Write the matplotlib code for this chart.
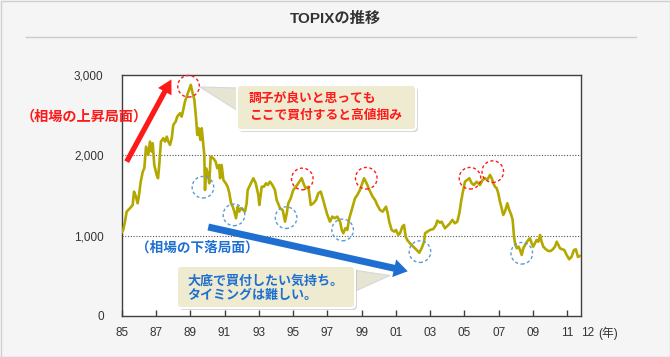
import matplotlib
matplotlib.use("Agg")
import matplotlib.pyplot as plt
import matplotlib.patches as mpatches
import matplotlib.transforms as mtransforms

plt.rcParams["font.family"] = ["Liberation Sans", "Noto Sans CJK JP", "DejaVu Sans"]

W, H = 670, 357

# ── data ──────────────────────────────────────────────────────────────────────
years = [
    1985.00, 1985.09, 1985.19, 1985.29, 1985.48, 1985.64, 1985.72, 1985.83, 1985.93,
    1986.01, 1986.11, 1986.23, 1986.32, 1986.42, 1986.55, 1986.65, 1986.75, 1986.81, 1986.90,
    1987.04, 1987.12, 1987.19, 1987.29, 1987.43, 1987.53, 1987.63, 1987.72, 1987.82, 1987.92,
    1988.01, 1988.15, 1988.24, 1988.40, 1988.50, 1988.59, 1988.69, 1988.79, 1988.89,
    1989.03, 1989.14, 1989.24, 1989.33, 1989.41, 1989.49, 1989.59, 1989.67, 1989.76, 1989.82,
    1989.86, 1989.92, 1990.02, 1990.11, 1990.19, 1990.34, 1990.48, 1990.58, 1990.68, 1990.74,
    1990.83, 1990.93, 1991.07, 1991.18, 1991.28, 1991.38, 1991.48, 1991.57, 1991.67, 1991.77,
    1991.86, 1991.96, 1992.09, 1992.19, 1992.29, 1992.35, 1992.49, 1992.58, 1992.68, 1992.82,
    1992.97, 1993.03, 1993.17, 1993.30, 1993.42, 1993.52, 1993.65, 1993.79, 1993.94,
    1994.04, 1994.24, 1994.39, 1994.53, 1994.63, 1994.72, 1994.86, 1995.01, 1995.17, 1995.30,
    1995.50, 1995.64, 1995.74, 1995.89, 1996.03, 1996.18, 1996.34, 1996.47, 1996.61, 1996.73,
    1996.86, 1997.00, 1997.15, 1997.29, 1997.44, 1997.58, 1997.74, 1997.84, 1997.93,
    1998.05, 1998.16, 1998.28, 1998.42, 1998.61, 1998.75, 1998.90, 1999.04, 1999.14,
    1999.29, 1999.45, 1999.64, 1999.78, 1999.91, 2000.07, 2000.23, 2000.42, 2000.52, 2000.61,
    2000.75, 2000.90, 2001.00, 2001.14, 2001.24, 2001.37, 2001.47, 2001.57, 2001.66, 2001.82,
    2002.01, 2002.21, 2002.36, 2002.50, 2002.64, 2002.70, 2002.83, 2002.99, 2003.18, 2003.34,
    2003.41, 2003.57, 2003.67, 2003.76, 2003.86, 2004.02, 2004.15, 2004.29, 2004.44, 2004.58,
    2004.70, 2004.80, 2004.89, 2005.03, 2005.16, 2005.28, 2005.42, 2005.55, 2005.71, 2005.90,
    2006.06, 2006.20, 2006.33, 2006.49, 2006.59, 2006.68, 2006.78, 2006.88, 2006.97,
    2007.07, 2007.17, 2007.26, 2007.36, 2007.50, 2007.61, 2007.73, 2007.81, 2007.89, 2007.95,
    2008.05, 2008.16, 2008.24, 2008.34, 2008.43, 2008.59, 2008.72, 2008.82, 2008.92,
    2009.01, 2009.11, 2009.21, 2009.31, 2009.41, 2009.50, 2009.60, 2009.75, 2009.89,
    2010.03, 2010.15, 2010.28, 2010.38, 2010.48, 2010.57, 2010.71, 2010.82, 2010.96,
    2011.11, 2011.25, 2011.39, 2011.50, 2011.62, 2011.74,
]
topix = [
    1042, 1071, 1174, 1299, 1341, 1382, 1548, 1486, 1403,
    1507, 1672, 1797, 1839, 2108, 2005, 2171, 2046, 2150, 1880,
    1756, 1715, 1880, 2171, 2213, 2171, 2233, 2171, 2129, 2213,
    2379, 2420, 2482, 2524, 2482, 2565, 2669, 2731, 2793,
    2877, 2773, 2690, 2482, 2254, 2337, 2192, 2337, 2129, 2005,
    1569, 1839, 1776, 1652, 1984, 1964, 1922, 1839, 1880, 1715,
    1880, 1694, 1652, 1610, 1528, 1403, 1361, 1299, 1217, 1361,
    1299, 1341, 1320, 1299, 1403, 1569, 1631, 1672, 1715, 1652,
    1507, 1382, 1610, 1610, 1652, 1631, 1672, 1631, 1569,
    1445, 1341, 1320, 1174, 1279, 1403, 1465, 1569, 1610, 1652,
    1715, 1631, 1590, 1610, 1382, 1403, 1445, 1528, 1548, 1465,
    1361, 1258, 1174, 1237, 1217, 1237, 1174, 1071, 1030,
    1092, 1071, 1217, 1320, 1465, 1507, 1569, 1652, 1715,
    1652, 1569, 1486, 1445, 1382, 1320, 1299, 1361, 1279, 1174,
    1071, 1050, 1071, 1009, 1030, 1112, 1133, 988, 946, 905,
    863, 822, 788, 843, 925, 1030, 1050, 1071, 1083, 1133,
    1187, 1162, 1174, 1133, 1092, 1125, 1154, 1196, 1154, 1174,
    1279, 1423, 1528, 1672, 1694, 1715, 1652, 1631, 1672, 1631,
    1694, 1715, 1694, 1756, 1715, 1652, 1610, 1590, 1528,
    1423, 1341, 1258, 1299, 1403, 1320, 1258, 1196, 988, 905,
    843, 863, 822, 760, 843, 905, 946, 967, 905,
    863, 905, 946, 925, 1009, 925, 863, 830, 809,
    809, 830, 863, 925, 884, 843, 830, 822, 760,
    706, 739, 822, 830, 735, 747,
]

tick_years = [1985, 1987, 1989, 1991, 1993, 1995, 1997, 1999, 2001, 2003, 2005, 2007, 2009, 2011]
tick_labels = ["85", "87", "89", "91", "93", "95", "97", "99", "01", "03", "05", "07", "09", "11"]
value_ticks = [0, 1000, 2000, 3000]
value_tick_labels = ["0", "1,000", "2,000", "3,000"]
guide_levels = [1000, 2000]

title = "TOPIXの推移"
rise_label = "（相場の上昇局面）"
fall_label = "（相場の下落局面）"
top_note = ["調子が良いと思っても", "ここで買付すると高値掴み"]
bottom_note = ["大底で買付したい気持ち。", "タイミングは難しい。"]

RED = "#ff1a1a"
BLUE = "#1f6fd1"
LINE = "#b3a800"
NOTE_BG = "#eeebd0"


def main():
    fig = plt.figure(figsize=(W / 100, H / 100), dpi=100, facecolor="#f5f5f5")
    # pixel coords measured from the top-left corner of the picture
    pix = mtransforms.Affine2D().scale(1 / W, -1 / H).translate(0, 1) + fig.transFigure

    fig.add_artist(mpatches.Rectangle((0.5, 0.5), W - 1, H - 1, transform=pix,
                                      fill=False, ec="#cfcfcf", lw=1))
    fig.text(335, 19, title, transform=pix, ha="center", va="center",
             fontsize=11, fontweight="bold", color="#333333")
    fig.add_artist(plt.Line2D([26, 636], [37.3, 37.3], transform=pix, color="#cccccc", lw=1))

    ax = fig.add_axes([121.7 / W, (H - 316) / H, (580.7 - 121.7) / W, (316 - 75) / H])
    ax.set_facecolor("white")
    ax.set_xlim(1985, 2011.78)
    ax.set_ylim(0, 3000)
    for spine in ax.spines.values():
        spine.set_color("#404040")
        spine.set_linewidth(1)

    ax.set_xticks(tick_years)
    ax.set_xticklabels(tick_labels)
    ax.set_yticks(value_ticks)
    ax.set_yticklabels(value_tick_labels)
    ax.tick_params(axis="x", direction="in", length=4, width=1, color="#404040",
                   pad=8, labelsize=8.5, labelcolor="#333333")
    ax.tick_params(axis="y", length=0, pad=13, labelsize=8.5, labelcolor="#333333")

    for level in guide_levels:
        ax.axhline(level, color="#555555", lw=0.8, ls=(0, (1, 1.5)), zorder=1)

    ax.plot(years, topix, color=LINE, lw=1.9, zorder=3)

    fig.text(588, 333, "12", transform=pix, ha="center", va="center",
             fontsize=8.5, color="#333333")
    fig.text(598, 333, "(年)", transform=pix, ha="left", va="center",
             fontsize=8.5, color="#333333")

    # dashed rings around peaks and bottoms
    r = 0.108
    rings = [
        (1988.9, 2860, RED), (1995.54, 1706, RED), (1999.27, 1715, RED),
        (2005.32, 1715, RED), (2006.65, 1797, RED),
        (1989.74, 1603, "#5b9bd5"), (1991.55, 1258, "#5b9bd5"), (1994.59, 1224, "#5b9bd5"),
        (1997.89, 1071, "#5b9bd5"), (2002.4, 801, "#5b9bd5"), (2008.34, 781, "#5b9bd5"),
    ]
    for x, y, c in rings:
        trans = fig.dpi_scale_trans + mtransforms.ScaledTranslation(x, y, ax.transData)
        ax.add_patch(mpatches.Circle((0, 0), r, transform=trans, fill=False, ec=c,
                                     lw=1, ls=(0, (2.2, 1.8)), zorder=4, clip_on=False))

    # trend arrows
    ax.add_patch(mpatches.FancyArrowPatch(
        (1985.29, 1921), (1987.9, 2945), arrowstyle="simple,head_width=11,head_length=10,tail_width=3.8",
        mutation_scale=1, color=RED, lw=0, zorder=5, clip_on=False, shrinkA=0, shrinkB=0))
    ax.add_patch(mpatches.FancyArrowPatch(
        (1990.05, 1108), (2001.69, 557), arrowstyle="simple,head_width=13,head_length=10,tail_width=5",
        mutation_scale=1, color=BLUE, lw=0, zorder=5, clip_on=False, shrinkA=0, shrinkB=0))

    fig.text(84, 117, rise_label, transform=pix, ha="center", va="center",
             fontsize=10.2, fontweight="bold", color=RED)
    fig.text(197.5, 247.5, fall_label, transform=pix, ha="center", va="center",
             fontsize=9.8, fontweight="bold", color=BLUE)

    # callouts
    def callout(x0, y0, x1, y1, pointer):
        fig.add_artist(mpatches.Polygon(pointer, closed=True, transform=pix, fc="#e6e4d2",
                                        ec="#d8d8d8", lw=0.8, zorder=6))
        fig.add_artist(mpatches.FancyBboxPatch(
            (x0 + 2, y0 + 2), x1 - x0, y1 - y0, boxstyle="round,pad=0,rounding_size=4",
            transform=pix, fc="#b0b0b0", ec="none", alpha=0.5, zorder=6))
        fig.add_artist(mpatches.FancyBboxPatch(
            (x0, y0), x1 - x0, y1 - y0, boxstyle="round,pad=0,rounding_size=4",
            transform=pix, fc=NOTE_BG, ec="white", lw=1.5, zorder=7))

    callout(237, 85, 416, 130, [(238, 88), (200, 87), (238, 111)])
    fig.text(249, 99, top_note[0], transform=pix, ha="left", va="center",
             fontsize=9.2, fontweight="bold", color=RED, zorder=8)
    fig.text(249, 116, top_note[1], transform=pix, ha="left", va="center",
             fontsize=9.2, fontweight="bold", color=RED, zorder=8)

    callout(177, 266, 355, 308, [(353, 270), (390, 275.5), (353, 292)])
    fig.text(187, 281, bottom_note[0], transform=pix, ha="left", va="center",
             fontsize=9.4, fontweight="bold", color=BLUE, zorder=8)
    fig.text(187, 296, bottom_note[1], transform=pix, ha="left", va="center",
             fontsize=9.4, fontweight="bold", color=BLUE, zorder=8)

    fig.savefig("out.png", dpi=100, facecolor=fig.get_facecolor())
    plt.close(fig)


if __name__ == "__main__":
    main()
